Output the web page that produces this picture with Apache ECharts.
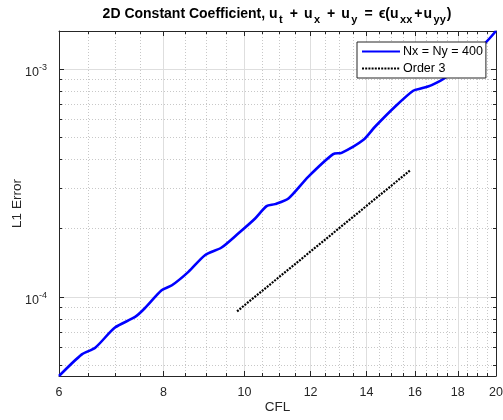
<!DOCTYPE html>
<html>
<head>
<meta charset="utf-8">
<script src="https://cdn.jsdelivr.net/npm/echarts@6/dist/echarts.min.js"></script>
<style>
  html, body { margin: 0; padding: 0; background: #fff; }
  #chart { width: 503px; height: 420px; }
</style>
</head>
<body>
<div id="chart"></div>
<script>
// L1 error against CFL number, Nx = Ny = 400
const cfl = [6.0, 6.39, 6.63, 7.0, 7.4, 7.6, 7.96, 8.19, 8.57, 8.97, 9.39, 9.83, 10.3, 10.63,
  10.88, 11.29, 11.92, 12.77, 13.07, 13.87, 14.33, 15.14, 15.92, 16.3, 16.75, 17.46, 19.4, 20.0];
const l1Error = [4.5e-5, 5.6e-5, 5.99e-5, 7.34e-5, 8.17e-5, 8.92e-5, 1.07e-4, 1.125e-4, 1.288e-4,
  1.524e-4, 1.648e-4, 1.898e-4, 2.21e-4, 2.502e-4, 2.554e-4, 2.705e-4, 3.365e-4, 4.233e-4,
  4.289e-4, 4.879e-4, 5.58e-4, 6.831e-4, 8.029e-4, 8.226e-4, 8.5e-4, 9.25e-4, 1.297e-3, 1.468e-3];

// Third-order reference slope
const orderCfl = [9.8, 15.8];
const orderError = [8.65e-5, 3.6e-4];

// Axis ranges and ticks
const xRange = [6, 20];
const yRange = [4.5e-5, 1.468e-3];
const xMajorTicks = [6, 8, 10, 12, 14, 16, 18, 20];
const xMinorTicks = [6.5, 7, 7.5, 8.5, 9, 9.5, 10.5, 11, 11.5, 12.5, 13, 13.5,
  14.5, 15, 15.5, 16.5, 17, 17.5, 18.5, 19, 19.5];
const yMajorTicks = [1e-4, 1e-3];
const yMinorTicks = [5e-5, 6e-5, 7e-5, 8e-5, 9e-5, 2e-4, 3e-4, 4e-4, 5e-4, 6e-4, 7e-4, 8e-4, 9e-4];

const seriesNames = ['Nx = Ny = 400', 'Order 3'];

const FONT = "'Liberation Sans', Arial, Helvetica, sans-serif";
const INK = '#262626';
const GRID_MAJOR = '#dedede';
const GRID_MINOR = '#c8c8c8';

function logAxis(range, position, ticks, tickLen, opts) {
  return Object.assign({
    type: 'log',
    logBase: 10,
    min: range[0],
    max: range[1],
    position: position,
    offset: 0,
    axisLine: { show: false, lineStyle: { color: INK, width: 1 } },
    axisTick: { show: true, inside: true, length: tickLen, customValues: ticks,
      lineStyle: { color: INK, width: 1 } },
    axisLabel: { show: false },
    splitLine: { show: false },
    minorTick: { show: false },
    minorSplitLine: { show: false }
  }, opts || {});
}

const chart = echarts.init(document.getElementById('chart'), null, { renderer: 'canvas' });

const titleBold = { fontFamily: FONT, fontWeight: 'bold', color: '#000' };

const option = {
  animation: false,
  backgroundColor: '#fff',
  textStyle: { fontFamily: FONT },
  title: {
    text: '2D Constant Coefficient, u{s|t}{o|+}u{s|x}{o|+}u{s|y}{o|=}\u03f5(u{s|xx}{p|+}u{s|yy})',
    left: 277,
    textAlign: 'center',
    top: 3,
    padding: 0,
    textStyle: {
      fontFamily: FONT,
      fontSize: 14,
      fontWeight: 'bold',
      color: '#000',
      lineHeight: 22,
      rich: {
        s: Object.assign({ fontSize: 11, lineHeight: 11, verticalAlign: 'bottom',
          padding: [0, 1, 0, 1.5] }, titleBold),
        o: Object.assign({ fontSize: 14, lineHeight: 22, padding: [0, 6, 0, 6] }, titleBold),
        p: Object.assign({ fontSize: 14, lineHeight: 22, padding: [0, 1, 0, 1] }, titleBold)
      }
    }
  },
  grid: {
    left: 59, right: 7, top: 31, bottom: 44,
    containLabel: false,
    outerBoundsMode: 'none'
  },
  legend: {
    data: seriesNames,
    orient: 'vertical',
    left: 357,
    top: 42,
    padding: [3, 3, 3, 4],
    itemWidth: 38,
    itemHeight: 12,
    itemGap: 4,
    backgroundColor: '#fff',
    borderColor: INK,
    borderWidth: 1,
    borderRadius: 0,
    itemStyle: { opacity: 0 },
    textStyle: { fontFamily: FONT, fontSize: 12.5, color: '#000', padding: [0, 0, 0, -2] }
  },
  xAxis: [
    logAxis(xRange, 'bottom', xMajorTicks, 5, {
      axisLine: { show: true, onZero: false, lineStyle: { color: INK, width: 1 } },
      axisLabel: {
        show: true, customValues: xMajorTicks, margin: 10,
        fontFamily: FONT, fontSize: 12.5, color: INK,
        formatter: v => String(Math.round(v))
      },
      splitLine: { show: true, lineStyle: { color: GRID_MAJOR, width: 1 } },
      name: 'CFL',
      nameLocation: 'middle',
      nameGap: 24,
      nameMoveOverlap: false,
      nameTextStyle: { fontFamily: FONT, fontSize: 13.5, color: INK }
    }),
    logAxis(xRange, 'bottom', xMinorTicks, 3, {
      splitLine: { show: true, lineStyle: { color: GRID_MINOR, width: 1, type: [1, 2] } }
    }),
    logAxis(xRange, 'top', xMajorTicks, 5, {
      axisLine: { show: true, onZero: false, lineStyle: { color: INK, width: 1 } }
    }),
    logAxis(xRange, 'top', xMinorTicks, 3)
  ],
  yAxis: [
    logAxis(yRange, 'left', yMajorTicks, 5, {
      axisLine: { show: true, onZero: false, lineStyle: { color: INK, width: 1 } },
      axisLabel: {
        show: true, customValues: yMajorTicks, margin: 12,
        fontFamily: FONT, fontSize: 12.5, color: INK,
        padding: [7, 0, 0, 0],
        formatter: v => '{b|10}{e|' + Math.round(Math.log10(v)) + '}',
        rich: {
          b: { fontFamily: FONT, fontSize: 12.5, color: INK, lineHeight: 18 },
          e: { fontFamily: FONT, fontSize: 9, color: INK, lineHeight: 9, verticalAlign: 'top' }
        }
      },
      splitLine: { show: true, lineStyle: { color: GRID_MAJOR, width: 1 } },
      name: 'L1 Error',
      nameLocation: 'middle',
      nameGap: 35,
      nameRotate: 90,
      nameMoveOverlap: false,
      nameTextStyle: { fontFamily: FONT, fontSize: 13.5, color: INK }
    }),
    logAxis(yRange, 'left', yMinorTicks, 3, {
      splitLine: { show: true, lineStyle: { color: GRID_MINOR, width: 1, type: [1, 2] } }
    }),
    logAxis(yRange, 'right', yMajorTicks, 5, {
      axisLine: { show: true, onZero: false, lineStyle: { color: INK, width: 1 } }
    }),
    logAxis(yRange, 'right', yMinorTicks, 3)
  ],
  series: [
    {
      name: seriesNames[0],
      type: 'line',
      xAxisIndex: 0,
      yAxisIndex: 0,
      data: cfl.map((c, i) => [c, l1Error[i]]),
      symbol: 'none',
      showSymbol: false,
      smooth: 0.25,
      clip: true,
      color: '#0000ff',
      lineStyle: { color: '#0000ff', width: 2.6 },
      z: 3
    },
    {
      name: seriesNames[1],
      type: 'line',
      xAxisIndex: 0,
      yAxisIndex: 0,
      data: orderCfl.map((c, i) => [c, orderError[i]]),
      symbol: 'none',
      showSymbol: false,
      clip: true,
      color: '#000',
      lineStyle: { color: '#000', width: 2.2, type: [2, 1.2] },
      z: 3
    }
  ]
};

chart.setOption(option);
</script>
</body>
</html>
